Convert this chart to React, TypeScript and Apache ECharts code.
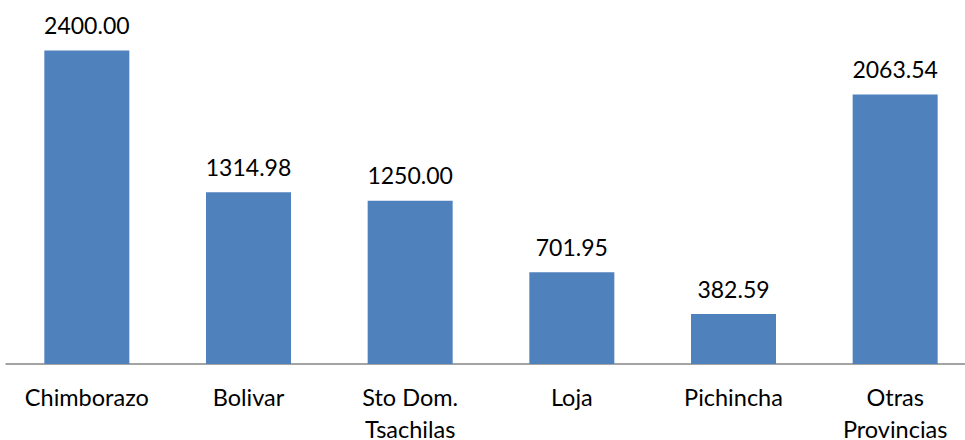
import React, { useEffect, useRef } from "react";
import * as echarts from "echarts";

const categories = ["Chimborazo", "Bolivar", "Sto Dom.\nTsachilas", "Loja", "Pichincha", "Otras\nProvincias"];
const values = [2400.0, 1314.98, 1250.0, 701.95, 382.59, 2063.54];

export default function App() {
  const ref = useRef<HTMLDivElement>(null);
  useEffect(() => {
    if (!ref.current) return;
    const chart = echarts.init(ref.current, null, { renderer: "svg" });
    chart.setOption({
      animation: false,
      grid: { left: 6, right: -11, top: 37.5, bottom: 76, containLabel: false, outerBoundsMode: "none" },
      xAxis: {
        type: "category",
        data: categories,
        axisLine: { show: true, lineStyle: { color: "#868686", width: 1.5 } },
        axisTick: { show: false },
        axisLabel: {
          interval: 0,
          color: "#000",
          fontFamily: "Lato",
          fontSize: 23.5,
          lineHeight: 32,
          margin: 17,
        },
      },
      yAxis: {
        type: "value",
        min: 0,
        max: 2500,
        show: false,
        splitLine: { show: false },
      },
      series: [
        {
          type: "bar",
          data: values,
          barWidth: 85,
          itemStyle: { color: "#4F81BD" },
          label: {
            show: true,
            position: "top",
            distance: 14,
            color: "#000",
            fontFamily: "Lato",
            fontSize: 23,
            formatter: (p: any) => Number(p.value).toFixed(2),
          },
        },
      ],
    });
    return () => chart.dispose();
  }, []);
  return (
    <div style={{ position: "absolute", left: 0, top: 0, width: 965, height: 440, overflow: "hidden" }}>
      <div ref={ref} style={{ width: 965, height: 440 }} />
    </div>
  );
}
